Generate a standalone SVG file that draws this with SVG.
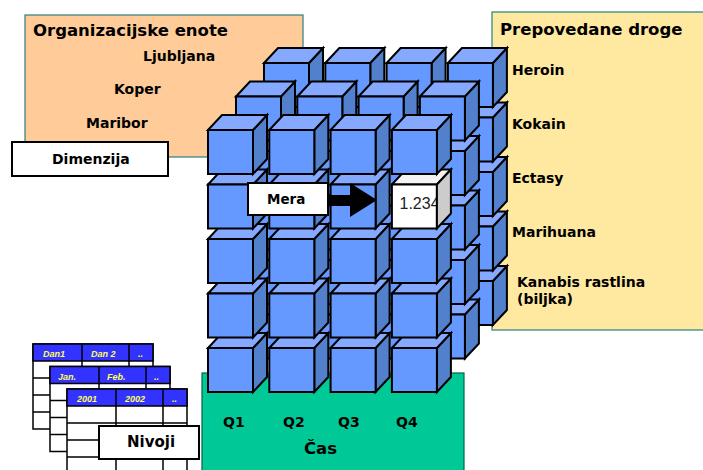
<svg xmlns="http://www.w3.org/2000/svg" width="703" height="470" viewBox="0 0 703 470">
  <style>
    .lbl { font-family: "DejaVu Sans", Verdana, sans-serif; font-weight: bold; fill: #000; }
    .title { font-size: 16.5px; }
    .item { font-size: 14px; }
    .panel { stroke: #2a7f7f; stroke-width: 1.2; }
    .edge { stroke: #000; stroke-width: 2; stroke-linejoin: miter; }
    .tab { fill: #fff; stroke: #000; stroke-width: 1.5; }
    .hdr { font-family: "Liberation Sans", Arial, sans-serif; font-weight: bold; font-style: italic; font-size: 9px; fill: #ffff55; }
  </style>
  <defs>
    <!-- blue cell cube; origin = top-left corner of the front face -->
    <g id="cube" class="edge">
      <polygon points="45,0 59,-15 59,29 45,44" fill="#5280cc"/>
      <polygon points="0,0 14,-15 59,-15 45,0" fill="#85a9ff"/>
      <rect x="0" y="0" width="45" height="44" fill="#6699ff"/>
    </g>
    <!-- highlighted cell holding a measure value -->
    <g id="cubeWhite" class="edge">
      <polygon points="0,0 14,-15 59,-15 45,0" fill="#f4f4f4"/>
      <rect x="0" y="0" width="45" height="44" fill="#ffffff"/>
    </g>
    <polygon id="cubeWhiteSide" class="edge" points="45,0 59,-15 59,29 45,44" fill="#cccccc"/>
    <!-- level table: header row + four rows -->
    <g id="levelTable">
      <rect class="tab" x="0" y="0" width="120" height="85"/>
      <rect x="0" y="0" width="120" height="17" fill="#3333ff" stroke="#000" stroke-width="1.5"/>
      <path d="M0,34H120M0,51H120M0,68H120M49,0V85M96,0V85" stroke="#000" stroke-width="1.5" fill="none"/>
    </g>
  </defs>

  <rect width="703" height="470" fill="#ffffff"/>

  <!-- dimension panels -->
  <g id="org-units">
    <rect class="panel" x="25" y="15" width="278" height="142" fill="#ffcc99"/>
    <text class="lbl title" x="33" y="36">Organizacijske enote</text>
    <text class="lbl item" x="143" y="61">Ljubljana</text>
    <text class="lbl item" x="114" y="94">Koper</text>
    <text class="lbl item" x="86" y="128">Maribor</text>
  </g>

  <g id="dimension-label">
    <rect x="12" y="142" width="156" height="34" fill="#fff" stroke="#000" stroke-width="2"/>
    <text class="lbl item" x="52" y="164">Dimenzija</text>
  </g>

  <g id="drugs">
    <rect class="panel" x="492" y="12" width="215" height="318" fill="#ffe89f"/>
    <text class="lbl title" x="500" y="35">Prepovedane droge</text>
    <text class="lbl item" x="512" y="75">Heroin</text>
    <text class="lbl item" x="512" y="129">Kokain</text>
    <text class="lbl item" x="512" y="183">Ectasy</text>
    <text class="lbl item" x="512" y="237">Marihuana</text>
    <text class="lbl item" x="517" y="287">Kanabis rastlina</text>
    <text class="lbl item" x="517" y="304">(biljka)</text>
  </g>

  <g id="time">
    <rect x="202" y="373" width="262" height="100" fill="#00c896" stroke="#006644" stroke-width="1.2"/>
    <text class="lbl item" x="223" y="427">Q1</text>
    <text class="lbl item" x="283" y="427">Q2</text>
    <text class="lbl item" x="338" y="427">Q3</text>
    <text class="lbl item" x="396" y="427">Q4</text>
    <text class="lbl title" x="304" y="454">Čas</text>
  </g>

  <!-- data cube: three depth layers, drawn back to front, bottom row first -->
  <g id="cube-back">
    <use href="#cube" x="264" y="281"/><use href="#cube" x="325.3" y="281"/><use href="#cube" x="386.6" y="281"/><use href="#cube" x="447.9" y="281"/>
    <use href="#cube" x="264" y="226.5"/><use href="#cube" x="325.3" y="226.5"/><use href="#cube" x="386.6" y="226.5"/><use href="#cube" x="447.9" y="226.5"/>
    <use href="#cube" x="264" y="172"/><use href="#cube" x="325.3" y="172"/><use href="#cube" x="386.6" y="172"/><use href="#cube" x="447.9" y="172"/>
    <use href="#cube" x="264" y="117.5"/><use href="#cube" x="325.3" y="117.5"/><use href="#cube" x="386.6" y="117.5"/><use href="#cube" x="447.9" y="117.5"/>
    <use href="#cube" x="264" y="63"/><use href="#cube" x="325.3" y="63"/><use href="#cube" x="386.6" y="63"/><use href="#cube" x="447.9" y="63"/>
  </g>
  <g id="cube-middle">
    <use href="#cube" x="236" y="314.5"/><use href="#cube" x="297.3" y="314.5"/><use href="#cube" x="358.6" y="314.5"/><use href="#cube" x="419.9" y="314.5"/>
    <use href="#cube" x="236" y="260"/><use href="#cube" x="297.3" y="260"/><use href="#cube" x="358.6" y="260"/><use href="#cube" x="419.9" y="260"/>
    <use href="#cube" x="236" y="205.5"/><use href="#cube" x="297.3" y="205.5"/><use href="#cube" x="358.6" y="205.5"/><use href="#cube" x="419.9" y="205.5"/>
    <use href="#cube" x="236" y="151"/><use href="#cube" x="297.3" y="151"/><use href="#cube" x="358.6" y="151"/><use href="#cube" x="419.9" y="151"/>
    <use href="#cube" x="236" y="96.5"/><use href="#cube" x="297.3" y="96.5"/><use href="#cube" x="358.6" y="96.5"/><use href="#cube" x="419.9" y="96.5"/>
  </g>
  <g id="cube-front">
    <use href="#cube" x="208" y="348"/><use href="#cube" x="269.3" y="348"/><use href="#cube" x="330.6" y="348"/><use href="#cube" x="391.9" y="348"/>
    <use href="#cube" x="208" y="293.5"/><use href="#cube" x="269.3" y="293.5"/><use href="#cube" x="330.6" y="293.5"/><use href="#cube" x="391.9" y="293.5"/>
    <use href="#cube" x="208" y="239"/><use href="#cube" x="269.3" y="239"/><use href="#cube" x="330.6" y="239"/><use href="#cube" x="391.9" y="239"/>
    <use href="#cube" x="208" y="184.5"/><use href="#cube" x="269.3" y="184.5"/><use href="#cube" x="330.6" y="184.5"/>
    <g id="value-cell">
      <use href="#cubeWhite" x="391.9" y="184.5"/>
      <text x="399.5" y="208.5" font-family="Liberation Sans, Arial, sans-serif" font-size="16" fill="#222">1.234</text>
      <use href="#cubeWhiteSide" x="391.9" y="184.5"/>
    </g>
    <use href="#cube" x="208" y="130"/><use href="#cube" x="269.3" y="130"/><use href="#cube" x="330.6" y="130"/><use href="#cube" x="391.9" y="130"/>
  </g>

  <!-- measure label pointing at the value cell -->
  <g id="measure">
    <rect x="248" y="183" width="80" height="32" fill="#fff" stroke="#000" stroke-width="2"/>
    <text class="lbl" x="267" y="204" font-size="13.5">Mera</text>
  </g>
  <g id="connectors">
    <polygon points="328,195 350,195 350,183 377,200 350,217 350,206 328,206" fill="#000"/>
  </g>

  <!-- hierarchy levels -->
  <g id="levels">
    <use href="#levelTable" x="33" y="344"/>
    <text class="hdr" x="43" y="357">Dan1</text>
    <text class="hdr" x="91" y="357">Dan 2</text>
    <text class="hdr" x="138" y="357">..</text>
    <use href="#levelTable" x="50" y="366.5"/>
    <text class="hdr" x="58" y="380">Jan.</text>
    <text class="hdr" x="107" y="380">Feb.</text>
    <text class="hdr" x="154" y="380">..</text>
    <use href="#levelTable" x="67" y="389"/>
    <text class="hdr" x="77" y="402">2001</text>
    <text class="hdr" x="125" y="402">2002</text>
    <text class="hdr" x="172" y="402">..</text>
  </g>
  <g id="levels-label">
    <rect x="99" y="426" width="100" height="33" fill="#fff" stroke="#000" stroke-width="2"/>
    <text class="lbl" x="127" y="447" font-size="15">Nivoji</text>
  </g>
</svg>
